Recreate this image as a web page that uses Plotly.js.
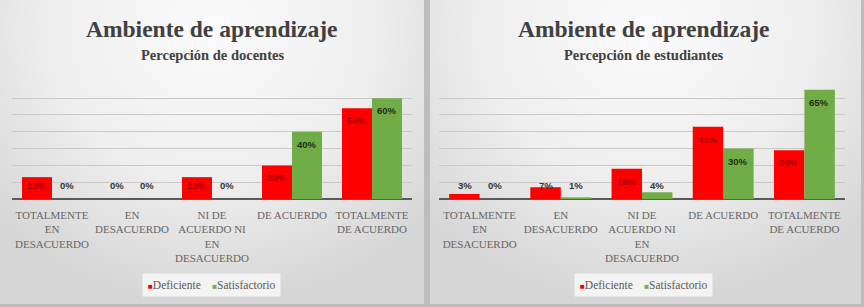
<!DOCTYPE html>
<html>
<head>
<meta charset="utf-8">
<script src="https://cdn.plot.ly/plotly-3.0.1.min.js"></script>
<style>
  html, body { margin: 0; padding: 0; width: 864px; height: 307px; overflow: hidden; background: #bdbdbd; }
  #bg1, #bg2 { position: absolute; top: 0; height: 304px; }
  #bg1 { left: 0; width: 424px; background: radial-gradient(ellipse 70% 90% at 50% 10%, #fbfbfb 0%, #eeeeee 55%, #d6d6d6 100%); }
  #bg2 { left: 430px; width: 431px; background: radial-gradient(ellipse 70% 90% at 50% 10%, #fbfbfb 0%, #eeeeee 55%, #d6d6d6 100%); }
  #chart { position: absolute; left: 0; top: 0; width: 864px; height: 307px; }
</style>
</head>
<body>
<div id="bg1"></div>
<div id="bg2"></div>
<div id="chart"></div>
<script>
const categories = [
  "TOTALMENTE<br>EN<br>DESACUERDO",
  "EN<br>DESACUERDO",
  "NI DE<br>ACUERDO NI<br>EN<br>DESACUERDO",
  "DE ACUERDO",
  "TOTALMENTE<br>DE ACUERDO"
];
const docentesDeficiente = [13, 0, 13, 20, 54];
const docentesSatisfactorio = [0, 0, 0, 40, 60];
const estudiantesDeficiente = [3, 7, 18, 43, 29];
const estudiantesSatisfactorio = [0, 1, 4, 30, 65];
const seriesNames = ["Deficiente", "Satisfactorio"];
const mainTitle = "Ambiente de aprendizaje";
const subTitles = ["Percepción de docentes", "Percepción de estudiantes"];

const RED = "#ff0000", GREEN = "#70ad47";
const serif = "Liberation Serif, Times New Roman, serif";
const sans = "Liberation Sans, Arial, sans-serif";

function bar(y, name, color, xa, ya) {
  return {
    type: "bar", x: categories, y: y, name: name, xaxis: xa, yaxis: ya,
    showlegend: false, marker: { color: color }, hoverinfo: "skip"
  };
}

const data = [
  bar(docentesDeficiente, seriesNames[0], RED, "x", "y"),
  bar(docentesSatisfactorio, seriesNames[1], GREEN, "x", "y"),
  bar(estudiantesDeficiente, seriesNames[0], RED, "x2", "y2"),
  bar(estudiantesSatisfactorio, seriesNames[1], GREEN, "x2", "y2")
];

const annotations = [];
function labels(vals, xref, yref, shift, isRed) {
  vals.forEach((v, i) => {
    const inside = v >= 10;
    annotations.push({
      x: categories[i], y: Math.max(v - 7.5, 8.3), xref: xref, yref: yref,
      xshift: shift, yanchor: "middle", xanchor: "center", showarrow: false,
      text: "<b>" + v + "%</b>",
      font: { family: sans, size: 9.5, color: isRed ? (inside ? "#a50000" : "#333333") : (inside ? "#1f2f14" : "#333333") }
    });
  });
}
labels(docentesDeficiente, "x", "y", -15, true);
labels(docentesSatisfactorio, "x", "y", 15, false);
labels(estudiantesDeficiente, "x2", "y2", -15, true);
labels(estudiantesSatisfactorio, "x2", "y2", 15, false);

const titleCenters = [212, 644];
const legendCenters = [211, 643];
titleCenters.forEach((cx, k) => {
  annotations.push({
    xref: "paper", yref: "paper", x: cx / 864, y: 1 - 29 / 307, xanchor: "center", yanchor: "middle",
    showarrow: false, text: "<b>" + mainTitle + "</b>",
    font: { family: serif, size: 23.5, color: "#404040" }
  });
  annotations.push({
    xref: "paper", yref: "paper", x: cx / 864, y: 1 - 55 / 307, xanchor: "center", yanchor: "middle",
    showarrow: false, text: "<b>" + subTitles[k] + "</b>",
    font: { family: serif, size: 14.5, color: "#404040" }
  });
  // legend box
  annotations.push({
    xref: "paper", yref: "paper", x: legendCenters[k] / 864, y: 1 - 285 / 307,
    xanchor: "center", yanchor: "middle", showarrow: false,
    bgcolor: "#f3f3f3", borderpad: 5,
    text: "<span style='color:" + RED + ";font-size:8px'>■</span>" + seriesNames[0] +
          "    <span style='color:" + GREEN + ";font-size:8px'>■</span>" + seriesNames[1],
    font: { family: serif, size: 11.5, color: "#595959" }
  });
});

const yBase = {
  range: [0, 70.2], dtick: 10, showticklabels: false, showgrid: true,
  gridcolor: "#c9c9c9", gridwidth: 1, zeroline: true, zerolinecolor: "#5a5a5a",
  zerolinewidth: 2, fixedrange: true, domain: [1 - 199 / 307, 1 - 81 / 307]
};
const xBase = {
  type: "category", showgrid: false, zeroline: false, showline: false, ticks: "",
  tickfont: { family: serif, size: 11, color: "#666666" }, fixedrange: true,
  tickangle: 0, ticklabelstandoff: 8
};

const layout = {
  width: 864, height: 307,
  margin: { l: 0, r: 0, t: 0, b: 0 },
  paper_bgcolor: "rgba(0,0,0,0)", plot_bgcolor: "rgba(0,0,0,0)",
  barmode: "group", bargap: 0.25, bargroupgap: 0,
  xaxis: Object.assign({}, xBase, { domain: [12 / 864, 412 / 864], anchor: "y" }),
  yaxis: Object.assign({}, yBase, { anchor: "x" }),
  xaxis2: Object.assign({}, xBase, { domain: [439 / 864, 845 / 864], anchor: "y2" }),
  yaxis2: Object.assign({}, yBase, { anchor: "x2" }),
  annotations: annotations,
  showlegend: false
};

Plotly.newPlot("chart", data, layout, { displayModeBar: false, staticPlot: true });
</script>
</body>
</html>
